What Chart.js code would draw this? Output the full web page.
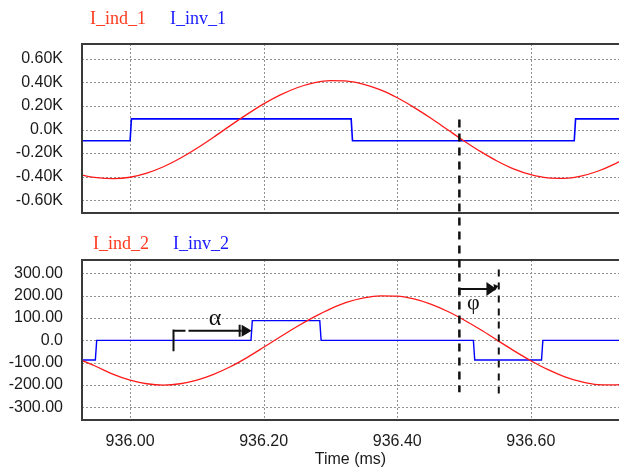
<!DOCTYPE html>
<html>
<head>
<meta charset="utf-8">
<script src="https://cdn.jsdelivr.net/npm/chart.js@4/dist/chart.umd.min.js"></script>
<style>
  html, body { margin: 0; padding: 0; background: #ffffff; }
  #wrap { position: relative; width: 619px; height: 468px; }
  #wrap canvas { position: absolute; left: 0; top: 0; }
</style>
</head>
<body>
<div id="wrap">
  <canvas id="c1" width="619" height="468"></canvas>
  <canvas id="c2" width="619" height="468"></canvas>
</div>
<script>
// ---------------- data ----------------
const xTickValues = [936.00, 936.20, 936.40, 936.60];
const topYTickValues = [600, 400, 200, 0, -200, -400, -600];
const bottomYTickValues = [300, 200, 100, 0, -100, -200, -300];

const seriesNames1 = ['I_ind_1', 'I_inv_1'];
const seriesNames2 = ['I_ind_2', 'I_inv_2'];

const sampleTimes = [935.925, 935.95, 935.975, 936.0, 936.025, 936.05, 936.075, 936.1, 936.125, 936.15,
  936.175, 936.2, 936.225, 936.25, 936.275, 936.3, 936.325, 936.35, 936.375, 936.4,
  936.425, 936.45, 936.475, 936.5, 936.525, 936.55, 936.575, 936.6, 936.625, 936.65,
  936.675, 936.7, 936.725, 936.75];

const iInd1 = [-384, -408, -416, -405, -370, -316, -244, -159, -65, 33,
  128, 217, 293, 354, 395, 414, 410, 383, 336, 269,
  188, 97, 0, -97, -188, -269, -336, -383, -410, -414,
  -395, -354, -293, -217];

const iInd2 = [-86, -118, -152, -178, -194, -200, -194, -178, -152, -118,
  -77, -31, 16, 62, 104, 141, 171, 190, 199, 198,
  185, 162, 130, 91, 47, 0, -47, -91, -130, -162,
  -185, -198, -199, -190];

const iInv1Times = [935.90, 936.000, 936.002, 936.331, 936.333, 936.665, 936.667, 936.75];
const iInv1 = [-95, -95, 90, 90, -95, -95, 90, 90];

const iInv2Times = [935.90, 935.948, 935.950, 936.181, 936.183, 936.284, 936.286, 936.514, 936.516, 936.616, 936.618, 936.75];
const iInv2 = [-88, -88, 0, 0, 88, 88, 0, 0, -88, -88, 0, 0];

// annotation anchors, in data units
const lagLine = { time: 936.493, topValue: 85, bottomValue: -232 };
const phiLine = { time: 936.552, topValue: 316, bottomValue: -250 };
const alphaArrow = { start: 936.065, end: 936.182, level: 43, barTop: 48, barBottom: -49, labelTime: 936.127, labelValue: 68 };
const phiArrow = { start: 936.493, end: 936.550, level: 229, labelTime: 936.514, labelValue: 142 };

// ---------------- helpers ----------------
const xMin = 935.928, xMax = 936.732;
const topMin = -708, topMax = 725;
const botMin = -356, botMax = 359;

const tickFont = { family: "'Liberation Sans', Arial, sans-serif", size: 16 };
const serif = "'Liberation Serif', 'Times New Roman', serif";
const redLine = '#ff1a1a';
const blueLine = '#0000ff';
const redText = '#ff3a1e';
const blueText = '#1a1aff';

function pts(xs, ys) { return xs.map((x, i) => ({ x: x, y: ys[i] })); }

function setTicks(values) {
  return function (scale) { scale.ticks = values.map(v => ({ value: v })); };
}

const gridPlugin = {
  id: 'dottedGrid',
  beforeDatasetsDraw(chart) {
    const a = chart.chartArea, ctx = chart.ctx;
    const xs = chart.scales.x, ys = chart.scales.y;
    ctx.save();
    ctx.strokeStyle = '#909090';
    ctx.lineWidth = 1;
    ctx.setLineDash([2, 2]);
    ctx.beginPath();
    xs.ticks.forEach(t => {
      const px = Math.round(xs.getPixelForValue(t.value)) + 0.5;
      ctx.moveTo(px, a.top); ctx.lineTo(px, a.bottom);
    });
    ys.ticks.forEach(t => {
      const py = Math.round(ys.getPixelForValue(t.value)) + 0.5;
      ctx.moveTo(a.left, py); ctx.lineTo(a.right, py);
    });
    ctx.stroke();
    ctx.restore();
  }
};

const framePlugin = {
  id: 'frame',
  afterDraw(chart) {
    const a = chart.chartArea, ctx = chart.ctx;
    ctx.save();
    ctx.strokeStyle = '#3a3a3a';
    ctx.lineWidth = 2;
    ctx.beginPath();
    ctx.moveTo(a.left, a.top); ctx.lineTo(a.right, a.top);
    ctx.moveTo(a.left, a.bottom); ctx.lineTo(a.right, a.bottom);
    ctx.moveTo(a.left, a.top - 1); ctx.lineTo(a.left, a.bottom + 1);
    ctx.stroke();
    ctx.restore();
  }
};

function legendPlugin(names, dx, dy) {
  return {
    id: 'legendText',
    afterDraw(chart) {
      const a = chart.chartArea, ctx = chart.ctx;
      ctx.save();
      ctx.font = '18px ' + serif;
      ctx.textBaseline = 'alphabetic';
      ctx.textAlign = 'left';
      ctx.fillStyle = redText;
      ctx.fillText(names[0], a.left + dx, a.top - dy);
      ctx.fillStyle = blueText;
      ctx.fillText(names[1], a.left + dx + 80, a.top - dy);
      ctx.restore();
    }
  };
}

function baseOptions(yMin, yMax, yTicks, yFmt, xAxisHeight, padTop, showXLabels) {
  return {
    responsive: false,
    animation: false,
    events: [],
    layout: { padding: { top: padTop, left: 0, right: 0, bottom: 0 } },
    plugins: { legend: { display: false }, tooltip: { enabled: false } },
    elements: { point: { radius: 0 } },
    scales: {
      x: {
        type: 'linear', min: xMin, max: xMax,
        afterBuildTicks: setTicks(xTickValues),
        afterFit(scale) { scale.height = xAxisHeight; },
        grid: { display: false, drawTicks: false },
        border: { display: false },
        ticks: {
          display: showXLabels, padding: 12, font: tickFont, color: '#1a1a1a',
          maxRotation: 0,
          callback: v => Number(v).toFixed(2)
        },
        title: {
          display: showXLabels, text: 'Time (ms)',
          font: { family: tickFont.family, size: 16, lineHeight: 1 }, color: '#1a1a1a',
          padding: { top: 0, bottom: 0 }
        }
      },
      y: {
        type: 'linear', min: yMin, max: yMax,
        afterBuildTicks: setTicks(yTicks),
        afterFit(scale) { scale.width = 82; },
        grid: { display: false, drawTicks: false },
        border: { display: false },
        ticks: { padding: 19, font: tickFont, color: '#1a1a1a', callback: yFmt }
      }
    }
  };
}

// ---------------- top chart ----------------
const chart1 = new Chart(document.getElementById('c1'), {
  type: 'line',
  data: {
    datasets: [
      { label: seriesNames1[0], data: pts(sampleTimes, iInd1), borderColor: redLine, borderWidth: 1.3, cubicInterpolationMode: 'monotone' },
      { label: seriesNames1[1], data: pts(iInv1Times, iInv1), borderColor: blueLine, borderWidth: 1.6, tension: 0 }
    ]
  },
  options: baseOptions(topMin, topMax, topYTickValues,
    v => (v === 0 ? '0.0K' : (v / 1000).toFixed(2) + 'K'), 255, 44, false),
  plugins: [gridPlugin, framePlugin, legendPlugin(seriesNames1, 8, 20)]
});

// ---------------- bottom chart ----------------
const annotationPlugin = {
  id: 'annotations',
  afterDraw(chart) {
    const ctx = chart.ctx;
    const xs = chart.scales.x, ys = chart.scales.y;
    const ys1 = chart1.scales.y;
    const X = t => xs.getPixelForValue(t);
    const Y = v => ys.getPixelForValue(v);
    ctx.save();
    ctx.strokeStyle = '#111';
    ctx.fillStyle = '#111';

    // long dashed line across both plots
    ctx.lineWidth = 2.5;
    ctx.setLineDash([8, 6]);
    ctx.beginPath();
    ctx.moveTo(X(lagLine.time), ys1.getPixelForValue(lagLine.topValue));
    ctx.lineTo(X(lagLine.time), Y(lagLine.bottomValue));
    ctx.stroke();

    // second dashed line
    ctx.lineWidth = 2;
    ctx.setLineDash([7, 6]);
    ctx.beginPath();
    ctx.moveTo(X(phiLine.time), Y(phiLine.topValue));
    ctx.lineTo(X(phiLine.time), Y(phiLine.bottomValue));
    ctx.stroke();
    ctx.setLineDash([]);

    // alpha arrow
    const ax0 = X(alphaArrow.start), ax1 = X(alphaArrow.end), ay = Y(alphaArrow.level);
    ctx.lineWidth = 2;
    ctx.beginPath();
    ctx.moveTo(ax0, Y(alphaArrow.barTop)); ctx.lineTo(ax0, Y(alphaArrow.barBottom));
    ctx.moveTo(ax0, ay); ctx.lineTo(ax0 + 12, ay);
    ctx.moveTo(ax0 + 15, ay); ctx.lineTo(ax1 - 10, ay);
    ctx.moveTo(ax1 - 12, ay - 6); ctx.lineTo(ax1 - 12, ay + 6);
    ctx.stroke();
    ctx.beginPath();
    ctx.moveTo(ax1 - 10, ay - 6); ctx.lineTo(ax1, ay); ctx.lineTo(ax1 - 10, ay + 6); ctx.closePath();
    ctx.fill();

    // phi arrow
    const px0 = X(phiArrow.start), px1 = X(phiArrow.end), py = Y(phiArrow.level);
    ctx.beginPath();
    ctx.moveTo(px0, py + 6); ctx.lineTo(px0, py); ctx.lineTo(px1 - 10, py);
    ctx.stroke();
    ctx.beginPath();
    ctx.moveTo(px1 - 11, py - 7); ctx.lineTo(px1 - 1, py); ctx.lineTo(px1 - 11, py + 7); ctx.closePath();
    ctx.fill();
    ctx.beginPath();
    ctx.moveTo(px1 - 4, py - 5); ctx.lineTo(px1 + 1, py - 3); ctx.lineTo(px1 - 3, py + 2); ctx.closePath();
    ctx.fill();

    // labels
    ctx.textAlign = 'center';
    ctx.textBaseline = 'alphabetic';
    ctx.font = '24px ' + serif;
    ctx.fillText('α', X(alphaArrow.labelTime), Y(alphaArrow.labelValue));
    ctx.font = '22px ' + serif;
    ctx.fillText('φ', X(phiArrow.labelTime), Y(phiArrow.labelValue));
    ctx.restore();
  }
};

const chart2 = new Chart(document.getElementById('c2'), {
  type: 'line',
  data: {
    datasets: [
      { label: seriesNames2[0], data: pts(sampleTimes, iInd2), borderColor: redLine, borderWidth: 1.3, cubicInterpolationMode: 'monotone' },
      { label: seriesNames2[1], data: pts(iInv2Times, iInv2), borderColor: blueLine, borderWidth: 1.4, tension: 0 }
    ]
  },
  options: baseOptions(botMin, botMax, bottomYTickValues,
    v => (v === 0 ? '0.0' : Number(v).toFixed(2)), 48, 260, true),
  plugins: [gridPlugin, framePlugin, legendPlugin(seriesNames2, 11, 11), annotationPlugin]
});
</script>
</body>
</html>
